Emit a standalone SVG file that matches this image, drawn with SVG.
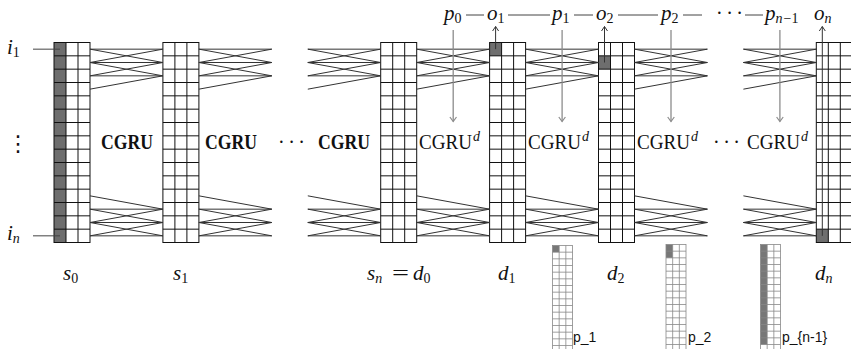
<svg xmlns="http://www.w3.org/2000/svg" xmlns:xlink="http://www.w3.org/1999/xlink" width="851" height="349" viewBox="0 0 851 349">
<style>
.m{font-family:"Liberation Serif","DejaVu Serif",serif;font-style:italic;font-size:21px;fill:#111}
.sub{font-style:normal;font-size:14px}
.subi{font-style:italic;font-size:14px}
.rm{font-family:"Liberation Serif","DejaVu Serif",serif;font-style:normal;font-size:20px;fill:#111}
.bold{font-weight:bold}
.sans{font-family:"Liberation Sans",Arial,sans-serif;font-size:14px;fill:#111}
.grid{fill:none;stroke:#111;stroke-width:1}
.gl{fill:none;stroke:#111;stroke-width:1}
.dark{fill:#6e6e6e}
.pg{fill:none;stroke:#888;stroke-width:0.8}
.pgl{fill:none;stroke:#888;stroke-width:0.8}
.pdark{fill:#777}
.conn{fill:none;stroke:#333;stroke-width:1}
.oarr{fill:none;stroke:#333;stroke-width:1;marker-end:url(#ahd)}
.parr{fill:none;stroke:#8c8c8c;stroke-width:1.3;marker-end:url(#ahg)}
.link{fill:none;stroke:#444;stroke-width:1}
</style>
<defs>
<marker id="ahd" viewBox="-6 -5 8 10" markerWidth="8" markerHeight="10" refX="0" refY="0" orient="auto" markerUnits="userSpaceOnUse"><path d="M-4.5,-3 L0,0 L-4.5,3" fill="none" stroke="#333" stroke-width="1"/></marker>
<marker id="ahg" viewBox="-6 -5 8 10" markerWidth="8" markerHeight="10" refX="0" refY="0" orient="auto" markerUnits="userSpaceOnUse"><path d="M-4.5,-3.3 L0,0 L-4.5,3.3" fill="none" stroke="#8c8c8c" stroke-width="1.2"/></marker>
<g id="grid">
<rect class="grid" x="0" y="0" width="36" height="200"/>
<path class="gl" d="M12 0V200M24 0V200M0 13.33H36M0 26.67H36M0 40H36M0 53.33H36M0 66.67H36M0 80H36M0 93.33H36M0 106.67H36M0 120H36M0 133.33H36M0 146.67H36M0 160H36M0 173.33H36M0 186.67H36"/>
</g>
<g id="pgrid">
<rect class="pg" x="0" y="0" width="20" height="107"/>
<path class="pgl" d="M6.67 0V107M13.33 0V107M0 6.67H20M0 13.33H20M0 20H20M0 26.67H20M0 33.33H20M0 40H20M0 46.67H20M0 53.33H20M0 60H20M0 66.67H20M0 73.33H20M0 80H20M0 86.67H20M0 93.33H20M0 100H20"/>
</g>
<path id="xconn" class="conn" d="M0 49.17H72.9M0 62.5L72.9 49.17M0 49.17L72.9 62.5M0 62.5H72.9M0 75.83L72.9 62.5M0 62.5L72.9 75.83M0 75.83H72.9M0 89.17L72.9 75.83M0 195.83L72.9 209.17M0 209.17H72.9M0 222.5L72.9 209.17M0 209.17L72.9 222.5M0 222.5H72.9M0 235.83L72.9 222.5M0 222.5L72.9 235.83M0 235.83H72.9"/>
</defs>
<rect width="851" height="349" fill="#fff"/>

<!-- columns -->
<g id="s0">
<rect class="dark" x="54" y="42.5" width="12" height="200"/>
<use xlink:href="#grid" href="#grid" transform="translate(54,42.5)"/>
</g>
<g id="s1">
<use xlink:href="#grid" href="#grid" transform="translate(162.9,42.5)"/>
</g>
<g id="sn">
<use xlink:href="#grid" href="#grid" transform="translate(380.7,42.5)"/>
</g>
<g id="d1">
<rect class="dark" x="489.6" y="42.5" width="12" height="13.33"/>
<use xlink:href="#grid" href="#grid" transform="translate(489.6,42.5)"/>
</g>
<g id="d2">
<rect class="dark" x="598.5" y="55.83" width="12" height="13.33"/>
<use xlink:href="#grid" href="#grid" transform="translate(598.5,42.5)"/>
</g>
<g id="dn">
<rect class="dark" x="816.3" y="229.17" width="12" height="13.33"/>
<use xlink:href="#grid" href="#grid" transform="translate(816.3,42.5)"/>
</g>

<!-- small p grids -->
<g id="p1grid">
<rect class="pdark" x="552.5" y="245.5" width="6.67" height="6.67"/>
<use xlink:href="#pgrid" href="#pgrid" transform="translate(552.5,245.5)"/>
<text class="sans" x="573" y="342">p_1</text>
</g>
<g id="p2grid">
<rect class="pdark" x="666" y="244.5" width="6.67" height="13.33"/>
<use xlink:href="#pgrid" href="#pgrid" transform="translate(666,244.5)"/>
<text class="sans" x="688" y="342">p_2</text>
</g>
<g id="pn1grid">
<rect class="pdark" x="760.5" y="244.5" width="6.67" height="100"/>
<use xlink:href="#pgrid" href="#pgrid" transform="translate(760.5,244.5)"/>
<text class="sans" x="782" y="342">p_{n-1}</text>
</g>

<!-- connectors -->
<g id="connectors">
<use xlink:href="#xconn" href="#xconn" transform="translate(90,0)"/>
<use xlink:href="#xconn" href="#xconn" transform="translate(198.9,0)"/>
<use xlink:href="#xconn" href="#xconn" transform="translate(307.8,0)"/>
<use xlink:href="#xconn" href="#xconn" transform="translate(416.7,0)"/>
<use xlink:href="#xconn" href="#xconn" transform="translate(525.6,0)"/>
<use xlink:href="#xconn" href="#xconn" transform="translate(634.5,0)"/>
<use xlink:href="#xconn" href="#xconn" transform="translate(743.4,0)"/>
<path class="link" d="M33 49.17H60M33 235.83H60"/>
<path class="oarr" d="M495.6 49.17V26.5"/>
<path class="oarr" d="M604.5 62.5V26.5"/>
<path class="oarr" d="M822.3 235.83V26.5"/>
<path class="parr" d="M453.2 30V121.5"/>
<path class="parr" d="M562.1 30V121.5"/>
<path class="parr" d="M671 30V121.5"/>
<path class="parr" d="M779.9 30V121.5"/>
<path class="link" d="M466 15H484M508 15H550M574 15H593M618 15H658M683 15H702M745 15H763"/>
</g>

<!-- labels -->
<g id="labels">
<text class="m" x="7" y="54">i<tspan class="sub" dy="3">1</tspan></text>
<text class="m" x="7" y="240">i<tspan class="subi" dy="3">n</tspan></text>
<text x="18" y="151" text-anchor="middle" style="font-family:'DejaVu Sans',sans-serif;font-size:22px;fill:#111">⋮</text>

<text class="rm bold" x="101" y="149" textLength="52" lengthAdjust="spacingAndGlyphs">CGRU</text>
<text class="rm bold" x="205" y="149" textLength="52" lengthAdjust="spacingAndGlyphs">CGRU</text>
<text class="rm bold" x="318" y="149" textLength="52" lengthAdjust="spacingAndGlyphs">CGRU</text>
<text class="rm" x="278" y="149" style="letter-spacing:3.5px">···</text>

<text class="rm" x="419" y="149" textLength="53" lengthAdjust="spacingAndGlyphs">CGRU</text>
<text class="m" x="473" y="141" style="font-size:14px">d</text>
<text class="rm" x="528" y="149" textLength="53" lengthAdjust="spacingAndGlyphs">CGRU</text>
<text class="m" x="582" y="141" style="font-size:14px">d</text>
<text class="rm" x="637" y="149" textLength="53" lengthAdjust="spacingAndGlyphs">CGRU</text>
<text class="m" x="691" y="141" style="font-size:14px">d</text>
<text class="rm" x="713" y="149" style="letter-spacing:3.5px">···</text>
<text class="rm" x="747" y="149" textLength="53" lengthAdjust="spacingAndGlyphs">CGRU</text>
<text class="m" x="801" y="141" style="font-size:14px">d</text>

<text class="m" x="444" y="19.5">p<tspan class="sub" dy="3">0</tspan></text>
<text class="m" x="487" y="19.5">o<tspan class="sub" dy="3">1</tspan></text>
<text class="m" x="552" y="19.5">p<tspan class="sub" dy="3">1</tspan></text>
<text class="m" x="596" y="19.5">o<tspan class="sub" dy="3">2</tspan></text>
<text class="m" x="661" y="19.5">p<tspan class="sub" dy="3">2</tspan></text>
<text class="rm" x="716" y="19.5" style="letter-spacing:3.5px">···</text>
<text class="m" x="765" y="19.5">p<tspan class="subi" dy="3">n</tspan><tspan class="sub" dx="1">−1</tspan></text>
<text class="m" x="814" y="19.5">o<tspan class="subi" dy="3">n</tspan></text>

<text class="m" x="63" y="279.5">s<tspan class="sub" dy="3">0</tspan></text>
<text class="m" x="173" y="279.5">s<tspan class="sub" dy="3">1</tspan></text>
<text class="m" x="367" y="279.5">s<tspan class="subi" dy="3">n</tspan></text>
<text class="rm" x="392" y="279.5" textLength="17" lengthAdjust="spacingAndGlyphs">=</text>
<text class="m" x="413" y="279.5">d<tspan class="sub" dy="3">0</tspan></text>
<text class="m" x="498" y="279.5">d<tspan class="sub" dy="3">1</tspan></text>
<text class="m" x="607" y="279.5">d<tspan class="sub" dy="3">2</tspan></text>
<text class="m" x="815" y="279.5">d<tspan class="subi" dy="3">n</tspan></text>
</g>
</svg>
